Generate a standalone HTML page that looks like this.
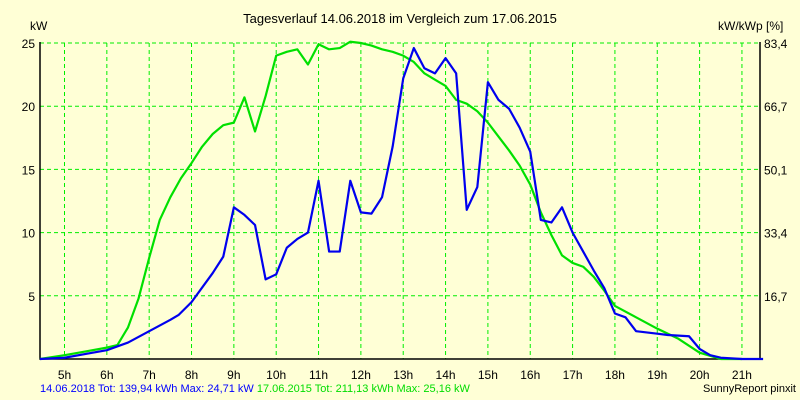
<!DOCTYPE html>
<html><head><meta charset="utf-8"><style>
body{margin:0;background:#ffffd6;}
svg{display:block;font-family:"Liberation Sans",sans-serif;}
</style></head><body>
<svg id="chart" width="800" height="400" viewBox="0 0 800 400">
<rect width="800" height="400" fill="#ffffd6"/>
<text x="400" y="23" font-size="13" text-anchor="middle">Tagesverlauf 14.06.2018 im Vergleich zum 17.06.2015</text>
<text x="30" y="30" font-size="12">kW</text>
<text x="718" y="30" font-size="12">kW/kWp [%]</text>
<g id="grid"></g><g id="axes"></g><g id="series"></g>
<text x="40" y="392" font-size="11" fill="#0000ff">14.06.2018 Tot: 139,94 kWh Max: 24,71 kW <tspan fill="#00dd00">17.06.2015 Tot: 211,13 kWh Max: 25,16 kW</tspan></text>
<text x="796" y="392" font-size="11" text-anchor="end">SunnyReport pinxit</text>
</svg>
<script>
const hourTicks=[5,6,7,8,9,10,11,12,13,14,15,16,17,18,19,20,21];
const yTicks=[5,10,15,20,25];
const rightLabels=["16,7","33,4","50,1","66,7","83,4"];
const hours2018=[4.42,5,5.5,6,6.5,7,7.5,7.7,8,8.5,8.75,9,9.25,9.5,9.75,10,10.25,10.5,10.75,11,11.25,11.5,11.75,12,12.25,12.5,12.75,13,13.25,13.5,13.75,14,14.25,14.5,14.75,15,15.25,15.5,15.75,16,16.25,16.5,16.75,17,17.25,17.5,17.75,18,18.25,18.5,19,19.25,19.75,20,20.25,20.5,21,21.5];
const kw2018=[0,0.1,0.4,0.7,1.3,2.2,3.1,3.5,4.5,6.8,8.1,12.0,11.4,10.6,6.3,6.7,8.8,9.5,10.0,14.1,8.5,8.5,14.1,11.6,11.5,12.8,16.8,22.2,24.6,23.0,22.6,23.8,22.6,11.8,13.6,21.9,20.5,19.8,18.3,16.4,11.0,10.8,12.0,10.0,8.5,7.0,5.6,3.6,3.3,2.2,2.0,1.9,1.8,0.8,0.3,0.1,0,0];
const hours2015=[4.42,5,5.5,6,6.25,6.5,6.75,7,7.25,7.5,7.75,8,8.25,8.5,8.75,9,9.25,9.5,9.75,10,10.25,10.5,10.75,11,11.25,11.5,11.75,12,12.25,12.5,12.75,13,13.25,13.5,13.75,14,14.25,14.5,14.75,15,15.25,15.5,15.75,16,16.25,16.5,16.75,17,17.25,17.5,17.75,18,18.5,19,19.5,20,20.5,21];
const kw2015=[0,0.3,0.6,0.9,1.1,2.5,4.8,8.0,11.0,12.8,14.3,15.5,16.8,17.8,18.5,18.7,20.7,18.0,20.8,24.0,24.3,24.5,23.3,24.9,24.5,24.6,25.1,25.0,24.8,24.5,24.3,24.0,23.5,22.6,22.1,21.6,20.5,20.2,19.6,18.7,17.6,16.5,15.3,13.8,11.6,9.8,8.2,7.6,7.3,6.5,5.4,4.2,3.3,2.4,1.6,0.5,0,0];
const X0=40,X1=760,Y0=359,YT=43;
const xs=h=>64.5+(h-5)*42.34;
const ys=v=>Y0-(v/25)*(Y0-YT);
const NS="http://www.w3.org/2000/svg";
function mk(tag,attrs,parent,txt){const e=document.createElementNS(NS,tag);for(const k in attrs)e.setAttribute(k,attrs[k]);if(txt!==undefined)e.textContent=txt;document.getElementById(parent).appendChild(e);return e;}
hourTicks.forEach(h=>{
 const l=mk('line',{x1:xs(h),x2:xs(h),y1:YT,y2:Y0,stroke:'#00ee00','stroke-dasharray':'4,3','stroke-width':1},'grid');
 
 
 const t=mk('text',{x:xs(h),y:379,'font-size':12,'text-anchor':'middle'},'axes',h+'h');
 
 
});
yTicks.forEach((v,i)=>{
 const l=mk('line',{x1:X0,x2:X1,y1:ys(v),y2:ys(v),stroke:'#00ee00','stroke-dasharray':'4,3','stroke-width':1},'grid');
 
 
 const t=mk('text',{x:35,y:ys(v)+5,'font-size':12,'text-anchor':'end'},'axes',String(v));
 
 
 const r=mk('text',{x:764,y:ys(v)+5,'font-size':12},'axes',rightLabels[i]);
 
 
});
const ax=mk('path',{d:`M${X0},${YT-1}V${Y0}H${X1}V${YT-1}`,fill:'none',stroke:'#000','stroke-width':1.5},'axes');


function line(hs,vs,col,name){
 const p=mk('polyline',{points:hs.map((h,i)=>xs(h)+','+ys(vs[i])).join(' '),fill:'none',stroke:col,'stroke-width':2.2,'stroke-linejoin':'round'},'series');
 
 
}
line(hours2015,kw2015,'#00e000','series-2015-line');
line(hours2018,kw2018,'#0000ee','series-2018-line');
</script>
</body></html>
